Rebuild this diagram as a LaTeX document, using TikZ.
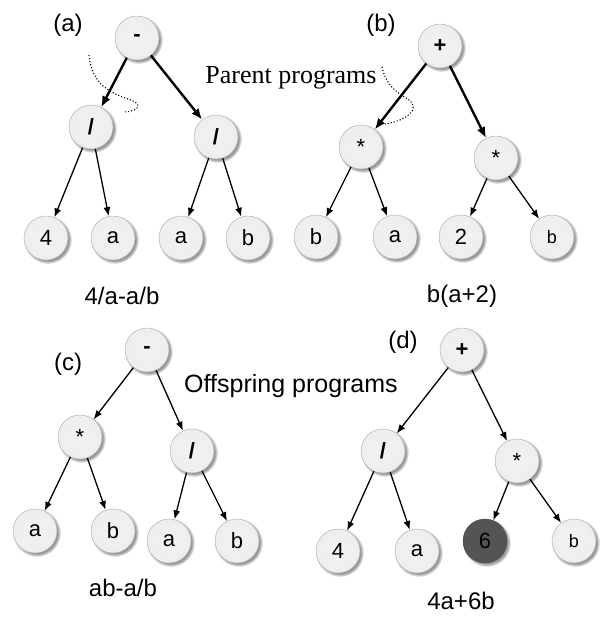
\documentclass[tikz,border=0pt]{standalone}
\usepackage{fontspec}
\setmainfont{Liberation Sans}
\newfontfamily\parentfont{Liberation Serif}
\usetikzlibrary{arrows.meta,shadows,positioning}
\pgfdeclareradialshading{gpball}{\pgfpoint{0bp}{0bp}}{color(0bp)=(black!5); color(28bp)=(black!7); color(40bp)=(black!16); color(50bp)=(black!42)}
\tikzset
{
    gpbase/.style     = {circle, draw=black!30, line width=0.5pt, minimum size=44pt, inner sep=0pt, font=\fontsize{22}{22}\selectfont, circular drop shadow={shadow xshift=1.6pt, shadow yshift=-1.6pt, opacity=0.55, fill=black!75}},
    gpnode/.style     = {gpbase, shading=gpball},
    darknode/.style   = {gpbase, fill=black!67, draw=black!70},
    smallsym/.style   = {font=\fontsize{18}{18}\selectfont},
    branch/.style     = {-{Latex[length=9pt,width=7pt]}, line width=1.3pt},
    mainbranch/.style = {-{Latex[length=11pt,width=9pt]}, line width=2.4pt},
    treelabel/.style  = {font=\fontsize{24}{24}\selectfont},
    cutline/.style    = {dotted, line width=1.1pt}
}

\begin{document}
\begin{tikzpicture}[x=1pt, y=-1pt]
\useasboundingbox (0,0) rectangle (607,619);
% (a)
\newcommand\XA{137}
\newcommand\YA{38}
\node (am)  [gpnode]            at (\XA,\YA)                  {\textbf{-}};
\node (ad1) [gpnode]            at ([shift=({-46,89})]am)     {\textbf{/}};
\node (ad2) [gpnode]            at ([shift=({79,99})]am)      {\textbf{/}};
\node (a4)  [gpnode]            at ([shift=({-45,111})]ad1)   {4};
\node (aa1) [gpnode]            at ([shift=({22,111})]ad1)    {a};
\node (aa2) [gpnode]            at ([shift=({-35,101})]ad2)   {a};
\node (ab)  [gpnode]            at ([shift=({32,101})]ad2)    {b};
\node (al)  [treelabel]         at (68,25)                    {(a)};
\node (af)  [treelabel]         at (122,296)                  {4/a-a/b};
% (b)
\newcommand\XB{440}
\newcommand\YB{46}
\node (bp)  [gpnode]            at (\XB,\YB)                  {\textbf{+}};
\node (bt1) [gpnode]            at ([shift=({-79,101})]bp)    {*};
\node (bt2) [gpnode]            at ([shift=({56,112})]bp)     {*};
\node (bb1) [gpnode]            at ([shift=({-45,90})]bt1)    {b};
\node (ba)  [gpnode]            at ([shift=({34,90})]bt1)     {a};
\node (b2)  [gpnode]            at ([shift=({-35,79})]bt2)    {2};
\node (bb2) [gpnode,smallsym]   at ([shift=({56,79})]bt2)     {b};
\node (bl)  [treelabel]         at (381,25)                   {(b)};
\node (bf)  [treelabel]         at (462,296)                  {b(a+2)};
% (c)
\newcommand\XC{147}
\newcommand\YC{350}
\node (cm)  [gpnode]            at (\XC,\YC)                  {\textbf{-}};
\node (ct)  [gpnode]            at ([shift=({-67,87})]cm)     {*};
\node (cd)  [gpnode]            at ([shift=({45,101})]cm)     {\textbf{/}};
\node (ca1) [gpnode]            at ([shift=({-45,94})]ct)     {a};
\node (cb1) [gpnode]            at ([shift=({33,94})]ct)      {b};
\node (ca2) [gpnode]            at ([shift=({-23,90})]cd)     {a};
\node (cb2) [gpnode]            at ([shift=({45,90})]cd)      {b};
\node (cl)  [treelabel]         at (68,364)                   {(c)};
\node (cf)  [treelabel]         at (123,588)                  {ab-a/b};
% (d)
\newcommand\XD{462}
\newcommand\YD{350}
\node (dp)  [gpnode]            at (\XD,\YD)                  {\textbf{+}};
\node (dd)  [gpnode]            at ([shift=({-79,101})]dp)    {\textbf{/}};
\node (dt)  [gpnode]            at ([shift=({55,111})]dp)     {*};
\node (d4)  [gpnode]            at ([shift=({-45,100})]dd)    {4};
\node (da)  [gpnode]            at ([shift=({34,100})]dd)     {a};
\node (d6)  [darknode]          at ([shift=({-32,80})]dt)     {6};
\node (db)  [gpnode,smallsym]   at ([shift=({57,80})]dt)      {b};
\node (dl)  [treelabel]         at (403,342)                  {(d)};
\node (df)  [treelabel]         at (461,601)                  {4a+6b};
% captions
\node (par) [font=\parentfont\fontsize{26}{26}\selectfont] at (291,78)  {Parent programs};
\node (off) [font=\fontsize{25}{25}\selectfont]            at (291,386) {Offspring programs};

\path
(am)  edge[mainbranch] (ad1)
(am)  edge[mainbranch] (ad2)
(ad1) edge[branch]     (a4)
(ad1) edge[branch]     (aa1)
(ad2) edge[branch]     (aa2)
(ad2) edge[branch]     (ab)
(bp)  edge[mainbranch] (bt1)
(bp)  edge[mainbranch] (bt2)
(bt1) edge[branch]     (bb1)
(bt1) edge[branch]     (ba)
(bt2) edge[branch]     (b2)
(bt2) edge[branch]     (bb2)
(cm)  edge[branch]     (ct)
(cm)  edge[branch]     (cd)
(ct)  edge[branch]     (ca1)
(ct)  edge[branch]     (cb1)
(cd)  edge[branch]     (ca2)
(cd)  edge[branch]     (cb2)
(dp)  edge[branch]     (dd)
(dp)  edge[branch]     (dt)
(dd)  edge[branch]     (d4)
(dd)  edge[branch]     (da)
(dt)  edge[branch]     (d6)
(dt)  edge[branch]     (db);

% crossover cut lines
\draw[cutline] (89,55) .. controls (92,85) and (110,93) .. (131,100) .. controls (142,104) and (140,111) .. (124,112);
\draw[cutline] (382,67) .. controls (386,85) and (396,92) .. (409,100) .. controls (421,109) and (406,121) .. (385,124);
\end{tikzpicture}
\end{document}
